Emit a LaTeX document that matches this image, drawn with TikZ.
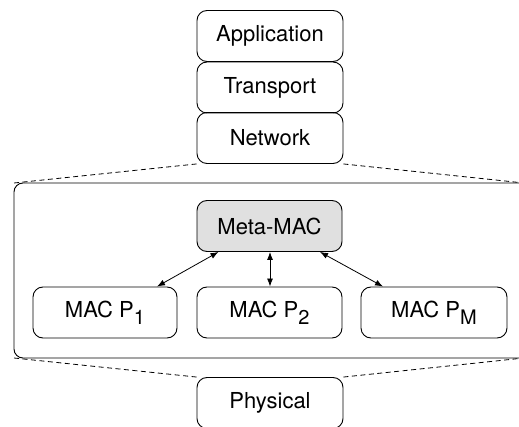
\documentclass[tikz,border=0pt]{standalone}
\usepackage{fontspec}
\setmainfont{TeX Gyre Heros}
\usetikzlibrary{arrows.meta}
\newcommand{\subtxt}[1]{\raisebox{-0.6ex}{\fontsize{20}{20}\selectfont #1}}
\begin{document}
\begin{tikzpicture}[x=1pt,y=-1pt,
  layer/.style={draw=black, line width=0.9pt, rounded corners=10pt, minimum width=146pt, minimum height=51pt, inner sep=0pt, font=\fontsize{22}{24}\selectfont},
  dashline/.style={draw=black, line width=0.8pt, dash pattern=on 5pt off 3.5pt},
  biarrow/.style={line width=0.8pt, {Latex[length=8pt,width=6pt]}-{Latex[length=8pt,width=6pt]}}]
\useasboundingbox (0,0) rectangle (519,427);
% big container
\draw[line width=0.9pt, rounded corners=9pt] (14,183) rectangle (540,358);
\coordinate (bl) at (14,183);
\coordinate (br) at (524,183);
\coordinate (cl) at (14,358);
\coordinate (cr) at (524,358);
% stack
\node[layer] (app) at (270,36) {Application};
\node[layer] (trn) at (270,87.5) {Transport};
\node[layer] (net) at (270,138) {Network};
\node[layer] (phy) at (270,403) {Physical};
% inner boxes
\node[layer, fill=black!12, minimum width=145pt] (meta) at (269.5,226) {Meta-MAC};
\node[layer, minimum width=144pt] (p1) at (105,312.5) {MAC P\subtxt{1}};
\node[layer, minimum width=145pt] (p2) at (269.5,312.5) {MAC P\subtxt{2}};
\node[layer, minimum width=146pt] (pm) at (434,312.5) {MAC P\subtxt{M}};
% dashed lines
\draw[dashline] (net.south west) -- (bl);
\draw[dashline] (net.south east) -- (br);
\draw[dashline] (phy.north west) -- (cl);
\draw[dashline] (phy.north east) -- (cr);
% arrows
\draw[biarrow] ([xshift=52pt]p1.north) -- ([xshift=-51pt]meta.south);
\draw[biarrow] ([xshift=0.5pt]p2.north) -- ([xshift=0.5pt]meta.south);
\draw[biarrow] ([xshift=-51pt]pm.north) -- ([xshift=50.5pt]meta.south);
\end{tikzpicture}
\end{document}
